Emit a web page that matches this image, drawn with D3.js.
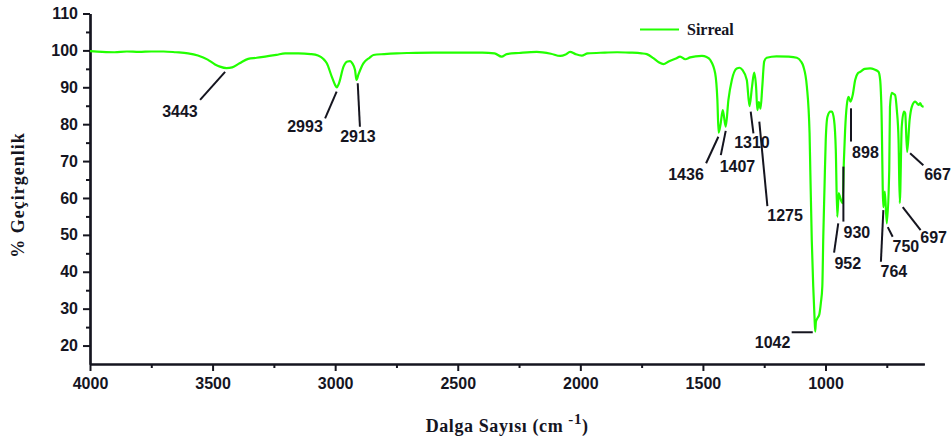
<!DOCTYPE html>
<html>
<head>
<meta charset="utf-8">
<script src="https://cdn.jsdelivr.net/npm/d3@7"></script>
<style>
  html, body { margin: 0; padding: 0; background: #fff; }
  svg { display: block; }
  .tick text { font-family: "Liberation Sans", Arial, sans-serif; font-weight: bold; font-size: 16px; fill: #15151f; }
  .title { font-family: "Liberation Serif", "Times New Roman", serif; font-weight: bold; fill: #15151f; }
  .peak { font-family: "Liberation Sans", Arial, sans-serif; font-weight: bold; font-size: 16px; fill: #15151f; }
</style>
</head>
<body>
<svg id="chart" width="952" height="443"></svg>
<script>
// FT-IR spectrum: wavenumber (cm-1) and % transmittance
const wavenumber = [
  4000, 3950, 3900, 3850, 3800, 3750, 3700, 3650, 3600, 3560, 3520, 3490, 3470, 3443, 3420, 3390,
  3355, 3320, 3280, 3240, 3204, 3150, 3100, 3070, 3050, 3034, 3014, 3000, 2993, 2985, 2966, 2950,
  2939, 2930, 2919, 2913, 2905, 2885, 2860, 2844, 2800, 2749, 2700, 2600, 2500, 2400, 2350, 2321,
  2300, 2250, 2178, 2120, 2082, 2060, 2042, 2020, 1994, 1970, 1900, 1850, 1800, 1750, 1729, 1702,
  1680, 1661, 1640, 1610, 1593, 1572, 1552, 1530, 1504, 1485, 1470, 1450, 1441, 1436, 1428, 1419,
  1407, 1396, 1382, 1362, 1350, 1339, 1321, 1310, 1300, 1291, 1283, 1278, 1272, 1265, 1258, 1250,
  1240, 1200, 1150, 1117, 1100, 1090, 1076, 1065, 1062, 1056, 1050, 1045, 1042, 1039, 1032, 1025,
  1019, 1013, 1009, 1004, 999, 992, 980, 974, 965, 958, 952, 946, 940, 930, 925, 920,
  913, 906, 898, 889, 879, 868, 858, 840, 818, 800, 784, 777, 772, 764, 758, 750,
  740, 737, 730, 722, 716, 709, 702, 697, 689, 680, 675, 667, 657, 648, 634, 625,
  620, 614, 608, 600
];
const transmittance = [
  99.8, 99.6, 99.5, 99.7, 99.6, 99.7, 99.7, 99.5, 99.2, 98.6, 97.5, 96.2, 95.6, 95.2, 95.4, 96.5,
  97.7, 98.0, 98.4, 98.8, 99.2, 99.2, 99.0, 98.6, 97.8, 96.5, 92.9, 90.6, 90.0, 91.0, 95.6, 97.0,
  97.1, 96.5, 94.7, 92.0, 93.5, 96.5, 98.0, 98.75, 99.0, 99.2, 99.3, 99.4, 99.4, 99.4, 99.2, 98.3,
  99.0, 99.3, 99.6, 99.1, 98.5, 98.9, 99.6, 99.0, 98.6, 99.2, 99.4, 99.5, 99.4, 99.2, 99.0, 97.9,
  96.8, 96.3, 97.0, 97.8, 98.3, 97.6, 98.1, 98.4, 98.5, 98.2, 97.4, 93.8, 86.6, 77.7, 80.0, 83.8,
  79.3, 86.6, 92.0, 95.1, 95.3, 94.7, 92.0, 84.9, 90.0, 94.0, 90.0, 83.8, 86.0, 84.2, 90.0, 97.0,
  98.0, 98.4, 98.3, 98.0, 97.0, 95.6, 90.2, 77.6, 67.6, 48.6, 36.0, 28.0, 23.8, 26.5, 27.5, 28.5,
  31.5, 36.0, 49.5, 63.0, 75.7, 82.0, 83.4, 83.4, 81.1, 73.0, 54.9, 61.3, 60.0, 58.6, 70.0, 78.4,
  85.2, 87.4, 86.1, 87.9, 92.0, 93.8, 94.2, 95.0, 95.1, 94.8, 94.2, 92.0, 84.7, 57.5, 61.7, 53.1,
  67.6, 84.7, 88.5, 88.2, 87.9, 83.8, 75.7, 58.6, 79.3, 83.4, 83.0, 72.5, 81.1, 84.7, 86.1, 85.5,
  85.2, 85.7, 85.0, 84.7
];

// axis ticks
const xMajorTicks = [4000, 3500, 3000, 2500, 2000, 1500, 1000];
const xMinorTicks = [3750, 3250, 2750, 2250, 1750, 1250, 750];
const yMajorTicks = [20, 30, 40, 50, 60, 70, 80, 90, 100, 110];
const yMinorTicks = [25, 35, 45, 55, 65, 75, 85, 95, 105];

// peak labels: text position and leader line, all in data units
const peakLabels  = ["3443", "2993", "2913", "1436", "1407", "1310", "1275", "1042", "952", "930", "898", "764", "750", "697", "667"];
const labelWn     = [3633, 3123, 2907, 1569, 1359, 1300, 1165, 1216, 909, 872, 837, 721, 672, 559, 543];
const labelT      = [82.0, 78.0, 75.3, 64.9, 67.1, 73.5, 53.8, 19.3, 40.8, 49.2, 70.8, 38.7, 45.4, 47.7, 64.9];
const leaderWn1   = [3449, 2994, 2908, 1437, 1407, 1305, 1270, 1052, 948, 927, 896, 764, 746, 685, 655];
const leaderT1    = [94.2, 88.8, 91.1, 76.6, 78.2, 83.4, 80.7, 23.6, 53.1, 68.5, 84.3, 56.7, 52.1, 57.5, 72.1];
const leaderWn2   = [3551, 3041, 2899, 1487, 1427, 1294, 1237, 1138, 965, 927, 896, 774, 726, 612, 601];
const leaderT2    = [86.6, 81.6, 79.3, 69.4, 71.6, 77.5, 57.8, 23.6, 45.2, 53.6, 75.3, 42.7, 49.5, 51.3, 68.9];

const seriesName = "Sirreal";
const xTitle = "Dalga Sayısı (cm";
const xTitleSup = "-1";
const yTitle = "% Geçirgenlik";

const lineColor = "#22ff00";
const ink = "#15151f";

const svg = d3.select("#chart");
const plotLeft = 90, plotRight = 924.3, plotTop = 13.5, plotBottom = 364;

const x = d3.scaleLinear().domain([4000, 597]).range([plotLeft, plotRight]);
const y = d3.scaleLinear().domain([15, 110]).range([plotBottom, plotTop]);

// axes
const xAxis = svg.append("g").attr("transform", `translate(0,${plotBottom})`)
  .call(d3.axisBottom(x).tickValues(xMajorTicks).tickSize(7).tickSizeOuter(0).tickPadding(7).tickFormat(d3.format("d")));
const xMinor = svg.append("g").attr("transform", `translate(0,${plotBottom})`)
  .call(d3.axisBottom(x).tickValues(xMinorTicks).tickSize(4).tickSizeOuter(0).tickFormat(""));
const yAxis = svg.append("g").attr("transform", `translate(${plotLeft},0)`)
  .call(d3.axisLeft(y).tickValues(yMajorTicks).tickSize(7).tickSizeOuter(0).tickPadding(5));
const yMinor = svg.append("g").attr("transform", `translate(${plotLeft},0)`)
  .call(d3.axisLeft(y).tickValues(yMinorTicks).tickSize(4).tickSizeOuter(0).tickFormat(""));

[xAxis, xMinor, yAxis, yMinor].forEach(g => {
  g.selectAll("path.domain").attr("stroke", ink).attr("stroke-width", 2.2);
  g.selectAll(".tick line").attr("stroke", ink).attr("stroke-width", 2);
  g.selectAll(".tick text").attr("fill", ink);
});

// spectrum
const pts = wavenumber.map((w, i) => [w, transmittance[i]]);
const line = d3.line().x(d => x(d[0])).y(d => y(d[1])).curve(d3.curveMonotoneX);
svg.append("path").datum(pts)
  .attr("d", line)
  .attr("fill", "none")
  .attr("stroke", lineColor)
  .attr("stroke-width", 2.2)
  .attr("stroke-linejoin", "round");

// peak leaders and labels
const ann = svg.append("g");
peakLabels.forEach((lab, i) => {
  ann.append("line")
    .attr("x1", x(leaderWn1[i])).attr("y1", y(leaderT1[i]))
    .attr("x2", x(leaderWn2[i])).attr("y2", y(leaderT2[i]))
    .attr("stroke", ink).attr("stroke-width", 2);
  ann.append("text").attr("class", "peak")
    .attr("x", x(labelWn[i])).attr("y", y(labelT[i]))
    .attr("text-anchor", "middle")
    .text(lab);
});

// legend
const lg = svg.append("g");
lg.append("line").attr("x1", 640).attr("x2", 679).attr("y1", 29.5).attr("y2", 29.5)
  .attr("stroke", lineColor).attr("stroke-width", 2.2);
lg.append("text").attr("class", "title").attr("x", 687).attr("y", 35)
  .style("font-size", "16px").text(seriesName);

// axis titles
const xt = svg.append("text").attr("class", "title")
  .attr("x", (plotLeft + plotRight) / 2).attr("y", 431.7)
  .attr("text-anchor", "middle").style("font-size", "18px").style("letter-spacing", "0.6px");
xt.append("tspan").text(xTitle + " ");
xt.append("tspan").attr("dy", -8).style("font-size", "15px").text(xTitleSup);
xt.append("tspan").attr("dy", 8).text(")");

svg.append("text").attr("class", "title")
  .attr("transform", `translate(24,195) rotate(-90)`)
  .attr("text-anchor", "middle").style("font-size", "18px").style("letter-spacing", "1px")
  .text(yTitle);
</script>
</body>
</html>
